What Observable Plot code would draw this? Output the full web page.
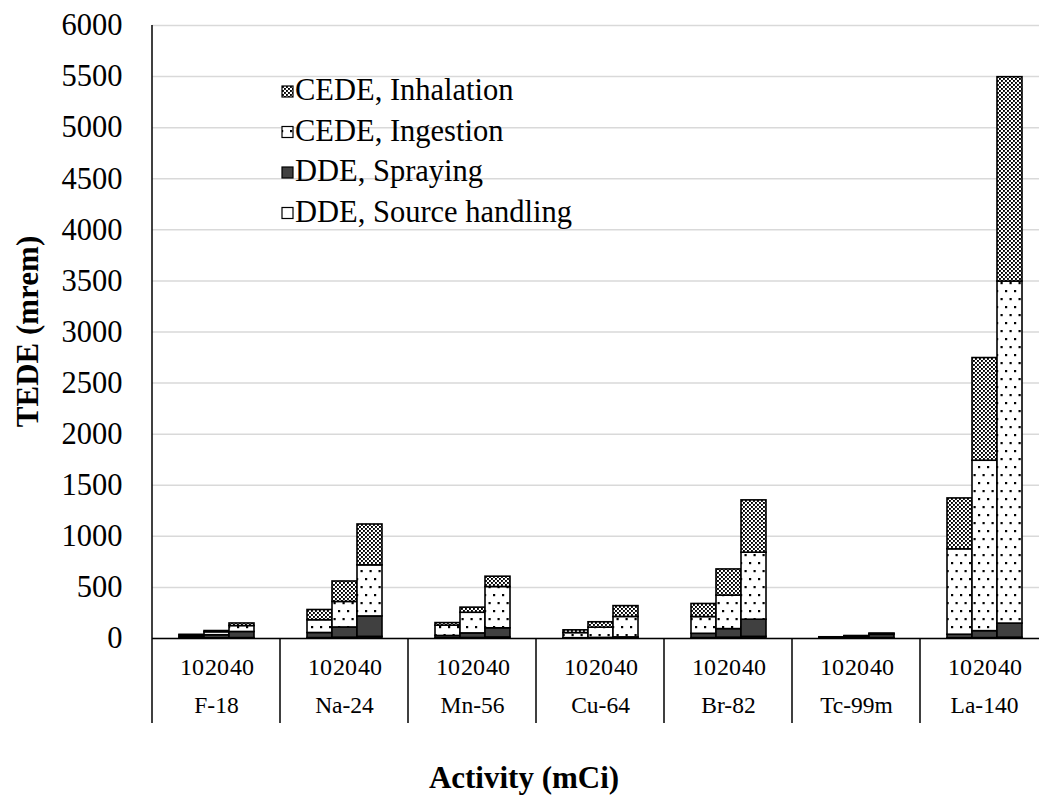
<!DOCTYPE html>
<html><head><meta charset="utf-8">
<script src="https://cdn.jsdelivr.net/npm/d3@7"></script>
<script src="https://cdn.jsdelivr.net/npm/@observablehq/plot@0.6"></script>
<style>
html,body{margin:0;padding:0;background:#fff;overflow:hidden;}
#chart{position:relative;width:1039px;height:801px;overflow:hidden;}
#chart svg{max-width:none !important;}
</style></head><body><div id="chart"></div>
<script>
const isotopes = ["F-18","Na-24","Mn-56","Cu-64","Br-82","Tc-99m","La-140"];
const activities = ["10","20","40"];
const components = ["DDE, Source handling","DDE, Spraying","CEDE, Ingestion","CEDE, Inhalation"];
const legendOrder = ["CEDE, Inhalation","CEDE, Ingestion","DDE, Spraying","DDE, Source handling"];
// values in mrem, per isotope: [10 mCi, 20 mCi, 40 mCi]
const sourceHandling = [[1,2,4],[4,8,16],[3,5,10],[1,2,3],[4,8,16],[1,2,4],[2,4,8]];
const spraying       = [[15,30,60],[50,100,200],[22,45,90],[2,4,8],[42,84,168],[8,16,32],[35,68,138]];
const ingestion      = [[14,29,58],[125,250,500],[101,202,404],[50,100,200],[164,328,656],[2,4,8],[836,1668,3348]];
const inhalation     = [[6,12,25],[100,200,400],[25,50,101],[27,53,106],[128,256,512],[1,2,4],[498,1005,2000]];
const yTicks = [0,500,1000,1500,2000,2500,3000,3500,4000,4500,5000,5500,6000];
const yTitle = "TEDE (mrem)";
const xTitle = "Activity (mCi)";

const data = [];
isotopes.forEach((iso,i)=>activities.forEach((act,j)=>{
  const vals = [sourceHandling[i][j], spraying[i][j], ingestion[i][j], inhalation[i][j]];
  components.forEach((c,k)=>data.push({isotope:iso, activity:act, component:c, value:vals[k]}));
}));

const fills = {
  "DDE, Source handling":"#ffffff",
  "DDE, Spraying":"#404040",
  "CEDE, Ingestion":"url(#pat-ingest)",
  "CEDE, Inhalation":"url(#pat-inhal)"
};
const FONT = "'Liberation Serif','Times New Roman',serif";

const chart = Plot.plot({
  width:1049, height:801,
  marginLeft:151, marginRight:0, marginTop:25, marginBottom:163,
  style:{fontFamily:FONT, background:"#ffffff", color:"#000", maxWidth:"none"},
  fx:{domain:isotopes, padding:0, label:null},
  x:{domain:activities, paddingInner:0, paddingOuter:0.967, label:null},
  y:{domain:[0,6000], label:null},
  color:{type:"ordinal", domain:components, range:components.map(c=>fills[c])},
  marks:[
    Plot.gridY(yTicks, {stroke:"#d9d9d9", strokeOpacity:1, strokeWidth:1.5}),
    Plot.barY(data, {fx:"isotope", x:"activity", y:"value", fill:"component", order:components, stroke:"#000", strokeWidth:1.6}),
    Plot.ruleY([0], {stroke:"#000", strokeWidth:1.5}),
    Plot.axisY(yTicks, {tickSize:0, tickPadding:30, fontSize:30.5, tickFormat:d=>String(d), label:null}),
    Plot.axisX({tickSize:0, tickPadding:19, fontSize:24, label:null}),
    Plot.axisFx({anchor:"bottom", tickSize:0, tickPadding:58, fontSize:23.5, label:null})
  ]
});
document.getElementById("chart").appendChild(chart);

const svg = d3.select(chart);
const defs = svg.insert("defs", ":first-child");
const pi = defs.append("pattern").attr("id","pat-inhal").attr("patternUnits","userSpaceOnUse").attr("width",4).attr("height",4);
pi.append("rect").attr("width",4).attr("height",4).attr("fill","#fff");
pi.append("rect").attr("x",0).attr("y",0).attr("width",1.9).attr("height",1.9).attr("fill","#000");
pi.append("rect").attr("x",2).attr("y",2).attr("width",1.9).attr("height",1.9).attr("fill","#000");
const pg = defs.append("pattern").attr("id","pat-ingest").attr("patternUnits","userSpaceOnUse").attr("width",9).attr("height",16);
pg.append("rect").attr("width",9).attr("height",16).attr("fill","#fff");
pg.append("rect").attr("x",2).attr("y",2).attr("width",2.2).attr("height",2.2).attr("fill","#000");
pg.append("rect").attr("x",6.5).attr("y",10).attr("width",2.2).attr("height",2.2).attr("fill","#000");

const fxS = chart.scale("fx"), yS = chart.scale("y");
const y0 = yS.apply(0), yTop = yS.apply(6000);
const bw = fxS.bandwidth;
const bounds = isotopes.map(i=>fxS.apply(i));
bounds.push(bounds[bounds.length-1] + bw);
const g = svg.append("g").attr("stroke","#000").attr("stroke-width",1.5);
g.append("line").attr("x1",bounds[0]).attr("x2",bounds[0]).attr("y1",yTop).attr("y2",723);
bounds.slice(1).forEach(b=>g.append("line").attr("x1",b).attr("x2",b).attr("y1",y0).attr("y2",723));

svg.append("text").attr("transform",`translate(38,${(y0+yTop)/2}) rotate(-90)`)
  .attr("text-anchor","middle").attr("font-family",FONT).attr("font-weight","bold").attr("font-size",31).attr("fill","#000").text(yTitle);
svg.append("text").attr("x",524).attr("y",788)
  .attr("text-anchor","middle").attr("font-family",FONT).attr("font-weight","bold").attr("font-size",31).attr("fill","#000").text(xTitle);

const lg = svg.append("g").attr("font-family",FONT).attr("font-size",30.5).attr("text-anchor","start");
legendOrder.forEach((c,k)=>{
  const by = 100 + k*40.5;
  lg.append("rect").attr("x",282).attr("y",by-14).attr("width",11).attr("height",11)
    .attr("fill",fills[c]).attr("stroke","#000").attr("stroke-width",1.2);
  lg.append("text").attr("x",295).attr("y",by).attr("text-anchor","start").attr("fill","#000").text(c);
});
</script></body></html>
